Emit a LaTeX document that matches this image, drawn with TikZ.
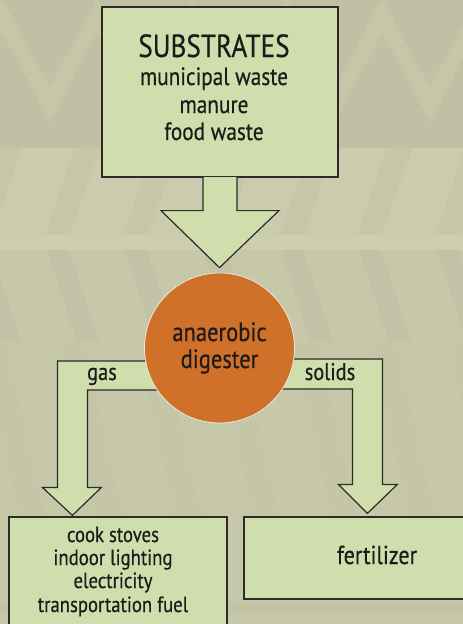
\documentclass[tikz,border=0pt]{standalone}
\usepackage{fontspec}
\setmainfont[FakeStretch=0.85,UprightFeatures={FakeBold=0.4}]{PT Sans}
\usetikzlibrary{positioning,calc,backgrounds}

\definecolor{bgkhaki}{HTML}{C7C8AA}
\definecolor{bgdark}{HTML}{C0C0A4}
\definecolor{bglight}{HTML}{CBCCAD}
\definecolor{bgstripe}{HTML}{CDCEAF}
\definecolor{boxgreen}{HTML}{CFDEAC}
\definecolor{digorange}{HTML}{CF7128}
\definecolor{edgegray}{HTML}{2B2B28}
\definecolor{inkgray}{HTML}{1C1A1A}

\tikzset{
  flowbox/.style={draw=edgegray, fill=boxgreen, line width=1.2pt, inner sep=0pt},
  flowarrow/.style={draw=edgegray, fill=boxgreen, line width=1.2pt, line join=miter},
  digester/.style={circle, fill=digorange, draw=white!60!bgkhaki, line width=0.8pt,
    minimum size=150pt, inner sep=0pt, align=center, text=inkgray,
    font=\fontsize{26.5}{27}\selectfont},
  bigtext/.style={anchor=base, inner sep=0pt, text=inkgray, font=\fontsize{32}{32}\selectfont},
  listtext/.style={anchor=base, inner sep=0pt, text=inkgray, font=\fontsize{25}{25}\selectfont},
  smalltext/.style={anchor=base, inner sep=0pt, text=inkgray, font=\fontsize{22}{22}\selectfont},
}

\begin{document}
\begin{tikzpicture}[x=1pt,y=-1pt]
\useasboundingbox (0,0) rectangle (463,624);
\clip (0,0) rectangle (463,624);

% background pattern
\begin{pgfonlayer}{background}
\fill[bgkhaki] (0,0) rectangle (463,624);
\fill[bgdark] (0,0) rectangle (463,148);
\draw[bgkhaki!80!bgdark, line width=16pt, line join=miter]
  (-45,105) -- (2,15) -- (50,105) -- (97,15) -- (145,105) -- (192,15) -- (240,105)
  -- (287,15) -- (335,105) -- (382,15) -- (430,105) -- (477,15);
\fill[bglight] (0,148) rectangle (463,235);
\foreach \x in {-3,75,153,231,309,387,465}
  \fill[bgdark!50!bglight] (\x,148) -- ++(25,0) -- ++(-30,87) -- ++(-25,0) -- cycle;
\fill[bgstripe] (0,235) rectangle (463,250);
\foreach \x in {-31,47,125,203,281,359,437}
  \fill[bgdark!70!bgkhaki] (\x,250) -- ++(22,0) -- ++(30,92) -- ++(-22,0) -- cycle;
\foreach \x in {-20,58,136,214,292,370,448}
  \fill[bgdark!35!bgkhaki] (\x,342) -- ++(26,0) -- ++(40,178) -- ++(-26,0) -- cycle;
\fill[bgdark!60!bgkhaki] (0,604) rectangle (463,614);
\end{pgfonlayer}

% boxes and digester
\node[flowbox, minimum width=236pt, minimum height=170pt] (sub) at (220,92) {};
\node[flowbox, minimum width=218pt, minimum height=123pt] (uses) at (118,578.5) {};
\node[flowbox, minimum width=231pt, minimum height=82pt] (fert) at (359.5,558) {};
\node[digester] (dig) at (219.5,348) {anaerobic\\digester};

% arrow from substrates into digester
\filldraw[flowarrow] ($(sub.south)+(-17,-0.6)$) |- ($(sub.south)+(-59,33)$)
  -- ($(dig.north)+(0,-5)$) -- ($(sub.south)+(59,33)$) -| ($(sub.south)+(17,-0.6)$);

% arrows out of the digester
\coordinate (gastip) at ($(uses.north west)+(64,-1)$);
\coordinate (soltip) at ($(fert.north west)+(124,-3)$);
\begin{pgfonlayer}{background}
\filldraw[flowarrow] ($(dig.center)+(0,13)$) -| ($(gastip)+(-15,-28)$) -- ++(-15,0)
  -- (gastip) -- ++(29,-28) -- ++(-14,0) |- ($(dig.center)+(0,42)$);
\filldraw[flowarrow] ($(dig.center)+(0,11)$) -| ($(soltip)+(15,-29)$) -- ++(15,0)
  -- (soltip) -- ++(-29,-29) -- ++(14,0) |- ($(dig.center)+(0,41)$);
\end{pgfonlayer}

% labels
\node[bigtext] (title) at (214,57) {SUBSTRATES};
\node[listtext] (sub1) at (214,85) {municipal waste};
\node[listtext] (sub2) at (214,113) {manure};
\node[listtext] (sub3) at (214,140) {food waste};
\node[listtext, font=\fontsize{24}{24}\selectfont] (gas) at (102,380) {gas};
\node[listtext, font=\fontsize{24}{24}\selectfont] (solids) at (330,380) {solids};
\node[smalltext] (use1) at (113,542) {cook stoves};
\node[smalltext] (use2) at (113,565) {indoor lighting};
\node[smalltext] (use3) at (113,588) {electricity};
\node[smalltext] (use4) at (113,612) {transportation fuel};
\node[listtext, font=\fontsize{26}{26}\selectfont] (fertlabel) at (377,564) {fertilizer};
\end{tikzpicture}
\end{document}
